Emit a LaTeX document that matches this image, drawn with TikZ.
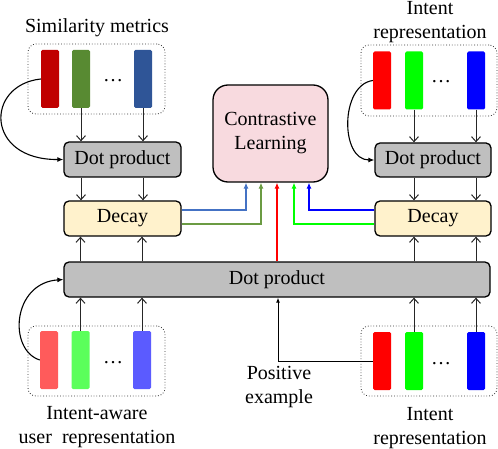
\documentclass[tikz,border=0pt]{standalone}
\usepackage{fontspec}
\setmainfont{Liberation Serif}
\usetikzlibrary{arrows.meta}
\definecolor{dpgray}{HTML}{BFBFBF}
\definecolor{decayfill}{HTML}{FFF2CC}
\definecolor{clfill}{HTML}{F8DADF}
\definecolor{dred}{HTML}{C00000}
\definecolor{dgreen}{HTML}{588A32}
\definecolor{dblue}{HTML}{2F5597}
\definecolor{pred}{HTML}{FF0000}
\definecolor{pgreen}{HTML}{00FF00}
\definecolor{pblue}{HTML}{0000FF}
\definecolor{lred}{HTML}{FF5B5B}
\definecolor{lgreen}{HTML}{5BFF5B}
\definecolor{lblue}{HTML}{5B5BFF}
\definecolor{sblue}{HTML}{4472C4}
\definecolor{sgreen}{HTML}{6B9B43}
\begin{document}
\begin{tikzpicture}[x=1pt,y=-1pt, font=\fontsize{20}{24}\selectfont,
  box/.style={draw=black, line width=1.3pt, rounded corners=5pt, inner sep=0pt, minimum width=117pt, minimum height=35pt},
  dotbox/.style={draw=black!80, dotted, line width=0.8pt, rounded corners=8pt, inner sep=0pt, minimum width=137pt, minimum height=70pt},
  bar/.style={rounded corners=1.5pt, minimum width=18pt, minimum height=58pt, inner sep=0pt},
  ar/.style={draw=black!85, line width=1pt, -{Straight Barb[length=5pt,width=9pt]}},
  car/.style={line width=1.1pt, -{Latex[length=6pt,width=5pt]}},
  lab/.style={align=center, inner sep=0pt}]
\useasboundingbox (0,0) rectangle (498,449);

% groups
\node[dotbox] (tlg) at (96.5,79) {};
\node[dotbox, minimum width=136pt, minimum height=71pt] (trg) at (429,80.5) {};
\node[dotbox] (blg) at (96.5,361) {};
\node[dotbox, minimum width=136pt] (brg) at (429,361) {};

% bars
\node[bar, fill=dred] (tr1) at (50,79) {};
\node[bar, fill=dgreen] (tg1) at (81,79) {};
\node[bar, fill=dblue] (tb1) at (143,79) {};
\node[anchor=base, inner sep=0pt] (tdots) at (113,82) {…};

\node[bar, fill=pred] (rr1) at (382,80.5) {};
\node[bar, fill=pgreen] (rg1) at (414,80.5) {};
\node[bar, fill=pblue] (rb1) at (476,80.5) {};
\node[anchor=base, inner sep=0pt] (rdots) at (441,83) {…};

\node[bar, fill=lred] (br1) at (49,360) {};
\node[bar, fill=lgreen] (bg1) at (80.5,360) {};
\node[bar, fill=lblue] (bb1) at (142,360) {};
\node[anchor=base, inner sep=0pt] (bdots) at (113,363) {…};

\node[bar, fill=pred] (qr1) at (382,361) {};
\node[bar, fill=pgreen] (qg1) at (414,361) {};
\node[bar, fill=pblue] (qb1) at (476,361) {};
\node[anchor=base, inner sep=0pt] (qdots) at (441,364) {…};

% labels
\node[anchor=base, inner sep=0pt] (simlab) at (97,33) {Similarity metrics};
\node[lab] (trlab) at (430,22.5) {Intent\\representation};
\node[lab] (bllab) at (97,426.6) {Intent-aware\\user\ \ representation};
\node[lab] (brlab) at (430,427.6) {Intent\\representation};
\node[lab] (poslab) at (279,386.6) {Positive\\example};

% boxes
\node[box, fill=dpgray] (dpL) at (122.5,159.5) {Dot product};
\node[box, fill=decayfill] (decL) at (122.5,218.5) {Decay};
\node[box, fill=dpgray, minimum width=116pt, minimum height=34pt] (dpR) at (433,160) {Dot product};
\node[box, fill=decayfill, minimum width=116pt] (decR) at (433,218.5) {Decay};
\node[box, fill=dpgray, minimum width=426pt] (big) at (277,279.5) {Dot product};
\node[box, fill=clfill, rounded corners=15pt, minimum width=115pt, minimum height=97pt, align=center] (CL) at (270.5,133.5) {Contrastive\\Learning};

% top-left arrows
\draw[ar] (tg1.south) -- (tg1 |- dpL.north);
\draw[ar] (tb1.south) -- (tb1 |- dpL.north);
\draw[ar] (tg1 |- dpL.south) -- (tg1 |- decL.north);
\draw[ar] (tb1 |- dpL.south) -- (tb1 |- decL.north);
\draw[car, black] (tr1.west) .. controls (-15,85) and (-15,160) .. (dpL.west);

% top-right arrows
\draw[ar] (rg1.south) -- (rg1 |- dpR.north);
\draw[ar] (rb1.south) -- (rb1 |- dpR.north);
\draw[ar] (rg1 |- dpR.south) -- (rg1 |- decR.north);
\draw[ar] (rb1 |- dpR.south) -- (rb1 |- decR.north);
\draw[car, black] (rr1.west) .. controls (340,85) and (340,160) .. (dpR.west);

% bottom-left arrows
\draw[ar] (bg1.north) -- (bg1 |- big.south);
\draw[ar] (bb1.north) -- (bb1 |- big.south);
\draw[ar] (bg1 |- big.north) -- (bg1 |- decL.south);
\draw[ar] (bb1 |- big.north) -- (bb1 |- decL.south);
\draw[car, black] (br1.west) .. controls (8,350) and (12,283) .. (big.west);

% bottom-right arrows
\draw[ar] (qg1.north) -- (qg1 |- big.south);
\draw[ar] (qb1.north) -- (qb1 |- big.south);
\draw[ar] (qg1 |- big.north) -- (qg1 |- decR.south);
\draw[ar] (qb1 |- big.north) -- (qb1 |- decR.south);
\draw[line width=1pt, -{Latex[length=5pt,width=4pt]}] (qr1.west) -| ([xshift=1pt]big.south);

% contrastive inputs
\coordinate (c1) at ([xshift=-24.5pt]CL.south);
\coordinate (c2) at ([xshift=-9.5pt]CL.south);
\coordinate (c3) at ([xshift=6.5pt]CL.south);
\coordinate (c4) at ([xshift=23.5pt]CL.south);
\coordinate (c5) at ([xshift=38.5pt]CL.south);
\draw[car, sblue] ([yshift=8.5pt]decL.east) -| (c1);
\draw[car, sgreen] ([yshift=-5.5pt]decL.east) -| (c2);
\draw[car, pred] (c3 |- big.north) -- (c3);
\draw[car, pgreen] ([yshift=-5.5pt]decR.west) -| (c4);
\draw[car, pblue] ([yshift=8.5pt]decR.west) -| (c5);
\end{tikzpicture}
\end{document}
